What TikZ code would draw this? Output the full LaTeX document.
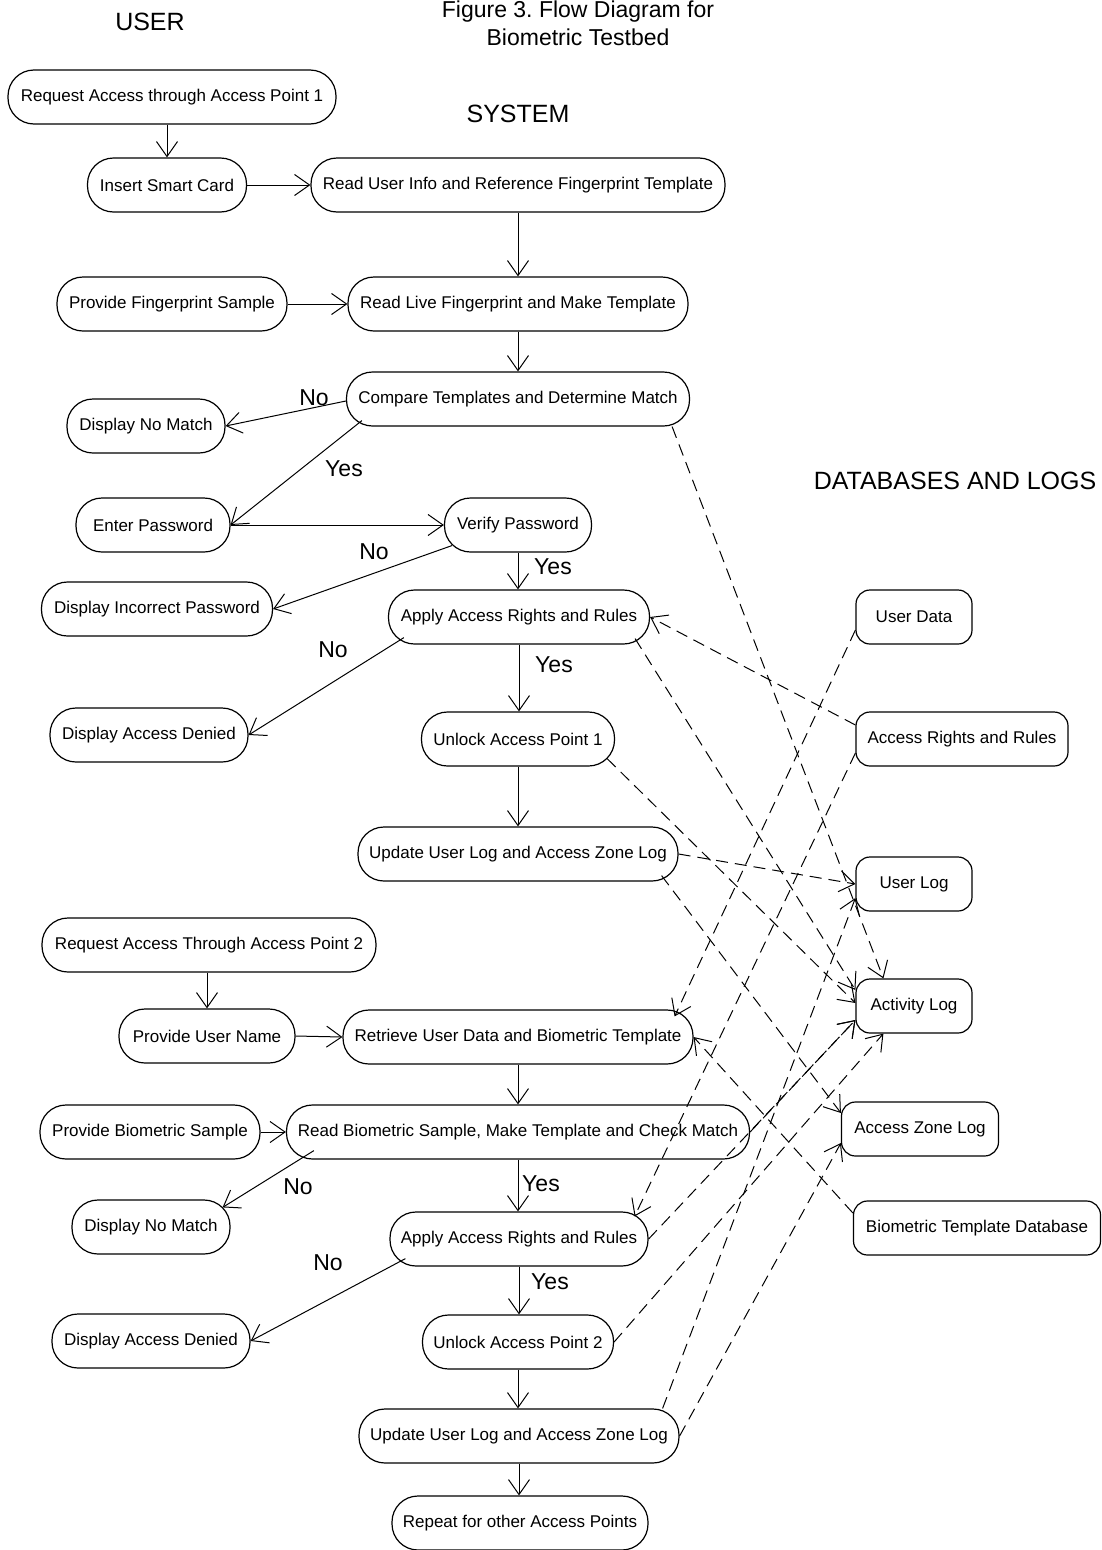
\documentclass[tikz,border=0pt]{standalone}
\usepackage{fontspec}
\setmainfont{Liberation Sans}
\usetikzlibrary{arrows.meta}

\begin{document}
\begin{tikzpicture}[x=1pt, y=-1pt,
    >={Straight Barb[length=15pt,width=21pt]},
    flow/.style={draw, line width=1.2pt, rounded corners=26pt, minimum height=54pt,
      inner xsep=4pt, font=\fontsize{17}{20}\selectfont},
    store/.style={draw, line width=1.2pt, rounded corners=14pt, minimum height=54pt,
      font=\fontsize{17}{20}\selectfont},
    head/.style={font=\fontsize{25}{28}\selectfont},
    answer/.style={font=\fontsize{23}{26}\selectfont},
    link/.style={->, line width=1pt},
    datalink/.style={->, line width=1pt, dash pattern=on 12pt off 7pt}]
  \useasboundingbox (0,0) rectangle (1101,1550);

  % Headings
  \node[head, font=\fontsize{23}{26}\selectfont] (title1) at (578,12) {Figure 3.\ Flow Diagram for};
  \node[head, font=\fontsize{23}{26}\selectfont] (title2) at (578,37) {Biometric Testbed};
  \node[head] (huser) at (150,22) {USER};
  \node[head] (hsys) at (518,114) {SYSTEM};
  \node[head] (hdb) at (955,481) {DATABASES AND LOGS};

  % Access point 1
  \node[flow, minimum width=328pt] (req1) at (172,97) {Request Access through Access Point 1};
  \node[flow, minimum width=159pt] (card) at (167,185) {Insert Smart Card};
  \node[flow, minimum width=414pt] (readinfo) at (518,185) {Read User Info and Reference Fingerprint Template};
  \node[flow, minimum width=230pt] (provfp) at (172,304) {Provide Fingerprint Sample};
  \node[flow, minimum width=340pt] (readlive) at (518,304) {Read Live Fingerprint and Make Template};
  \node[flow, minimum width=343pt] (compare) at (518,399) {Compare Templates and Determine Match};
  \node[flow, minimum width=158pt] (nomatch1) at (146,426) {Display No Match};
  \node[flow, minimum width=154pt] (enterpw) at (153,525) {Enter Password};
  \node[flow, minimum width=147pt] (verify) at (518,525) {Verify Password};
  \node[flow, minimum width=231pt] (incorrect) at (157,609) {Display Incorrect Password};
  \node[flow, minimum width=261pt] (apply1) at (519,617) {Apply Access Rights and Rules};
  \node[flow, minimum width=198pt] (denied1) at (149,735) {Display Access Denied};
  \node[flow, minimum width=193pt] (unlock1) at (518,739) {Unlock Access Point 1};
  \node[flow, minimum width=320pt] (update1) at (518,854) {Update User Log and Access Zone Log};

  % Access point 2
  \node[flow, minimum width=334pt] (req2) at (209,945) {Request Access Through Access Point 2};
  \node[flow, minimum width=176pt] (provname) at (207,1036) {Provide User Name};
  \node[flow, minimum width=350pt] (retrieve) at (518,1037) {Retrieve User Data and Biometric Template};
  \node[flow, minimum width=220pt] (provbio) at (150,1132) {Provide Biometric Sample};
  \node[flow, minimum width=463pt] (readbio) at (518,1132) {Read Biometric Sample, Make Template and Check Match};
  \node[flow, minimum width=158pt] (nomatch2) at (151,1227) {Display No Match};
  \node[flow, minimum width=258pt] (apply2) at (519,1239) {Apply Access Rights and Rules};
  \node[flow, minimum width=198pt] (denied2) at (151,1341) {Display Access Denied};
  \node[flow, minimum width=191pt] (unlock2) at (518,1342) {Unlock Access Point 2};
  \node[flow, minimum width=320pt] (update2) at (519,1436) {Update User Log and Access Zone Log};
  \node[flow, minimum width=256pt] (repeat) at (520,1523) {Repeat for other Access Points};

  % Databases and logs
  \node[store, minimum width=116pt] (userdata) at (914,617) {User Data};
  \node[store, minimum width=212pt] (rights) at (962,739) {Access Rights and Rules};
  \node[store, minimum width=116pt] (userlog) at (914,884) {User Log};
  \node[store, minimum width=116pt] (actlog) at (914,1006) {Activity Log};
  \node[store, minimum width=157pt] (zonelog) at (920,1129) {Access Zone Log};
  \node[store, minimum width=247pt] (biodb) at (977,1228) {Biometric Template Database};

  % Flow, access point 1
  \draw[link] (req1.south -| card.north) -- (card.north);
  \draw[link] (card.east) -- (readinfo.west);
  \draw[link] (readinfo.south) -- (readlive.north);
  \draw[link] (provfp.east) -- (readlive.west);
  \draw[link] (readlive.south) -- (compare.north);
  \draw[link] ([yshift=-2pt]compare.west) -- (nomatch1.east);
  \draw[link] ([xshift=16pt,yshift=6pt]compare.south west) -- (enterpw.east);
  \draw[link] (enterpw.east) -- (verify.west);
  \draw[link] ([xshift=8pt,yshift=7pt]verify.south west) -- (incorrect.east);
  \draw[link] (verify.south) -- (verify.south |- apply1.north);
  \draw[link] ([xshift=16pt,yshift=7pt]apply1.south west) -- (denied1.east);
  \draw[link] (apply1.south) -- (apply1.south |- unlock1.north);
  \draw[link] (unlock1.south) -- (unlock1.south |- update1.north);

  % Flow, access point 2
  \draw[link] (req2.south -| provname.north) -- (provname.north);
  \draw[link] (provname.east) -- (retrieve.west);
  \draw[link] (retrieve.south) -- (retrieve.south |- readbio.north);
  \draw[link] (provbio.east) -- (readbio.west);
  \draw[link] ([xshift=28pt,yshift=9pt]readbio.south west) -- ([xshift=-8pt,yshift=-8pt]nomatch2.north east);
  \draw[link] (readbio.south) -- (readbio.south |- apply2.north);
  \draw[link] ([xshift=16pt,yshift=8pt]apply2.south west) -- (denied2.east);
  \draw[link] (apply2.south) -- (apply2.south |- unlock2.north);
  \draw[link] (unlock2.south) -- (unlock2.south |- update2.north);
  \draw[link] (update2.south) -- (update2.south |- repeat.north);

  % Yes / No
  \node[answer] (no1) at (314,398) {No};
  \node[answer] (yes1) at (344,469) {Yes};
  \node[answer] (no2) at (374,552) {No};
  \node[answer] (yes2) at (553,567) {Yes};
  \node[answer] (no3) at (333,650) {No};
  \node[answer] (yes3) at (554,665) {Yes};
  \node[answer] (no4) at (298,1187) {No};
  \node[answer] (yes4) at (541,1184) {Yes};
  \node[answer] (no5) at (328,1263) {No};
  \node[answer] (yes5) at (550,1282) {Yes};

  % Data flows
  \draw[datalink] ([xshift=-18pt]compare.south east) -- ([xshift=28pt]actlog.north west);
  \draw[datalink] ([yshift=14pt]rights.west) -- (apply1.east);
  \draw[datalink] ([yshift=-13pt]userdata.west) -- ([xshift=-19pt,yshift=-7pt]retrieve.north east);
  \draw[datalink] ([yshift=-14pt]rights.west) -- ([xshift=-14pt,yshift=-5pt]apply2.north east);
  \draw[datalink] ([xshift=-15pt,yshift=6pt]apply1.south east) -- ([yshift=16pt]actlog.west);
  \draw[datalink] ([xshift=-8pt,yshift=8pt]unlock1.south east) -- ([yshift=3pt]actlog.west);
  \draw[datalink] (update1.east) -- (userlog.west);
  \draw[datalink] ([xshift=-17pt,yshift=6pt]update1.south east) -- ([yshift=16pt]zonelog.west);
  \draw[datalink] ([yshift=15pt]biodb.west) -- (retrieve.east);
  \draw[datalink] (readbio.east) -- ([yshift=-14pt]actlog.west);
  \draw[datalink] (apply2.east) -- ([yshift=-14pt]actlog.west);
  \draw[datalink] (unlock2.east) -- ([xshift=28pt]actlog.south west);
  \draw[datalink] ([xshift=-17pt]update2.north east) -- ([yshift=-14pt]userlog.west);
  \draw[datalink] (update2.east) -- ([yshift=-14pt]zonelog.west);
\end{tikzpicture}
\end{document}
